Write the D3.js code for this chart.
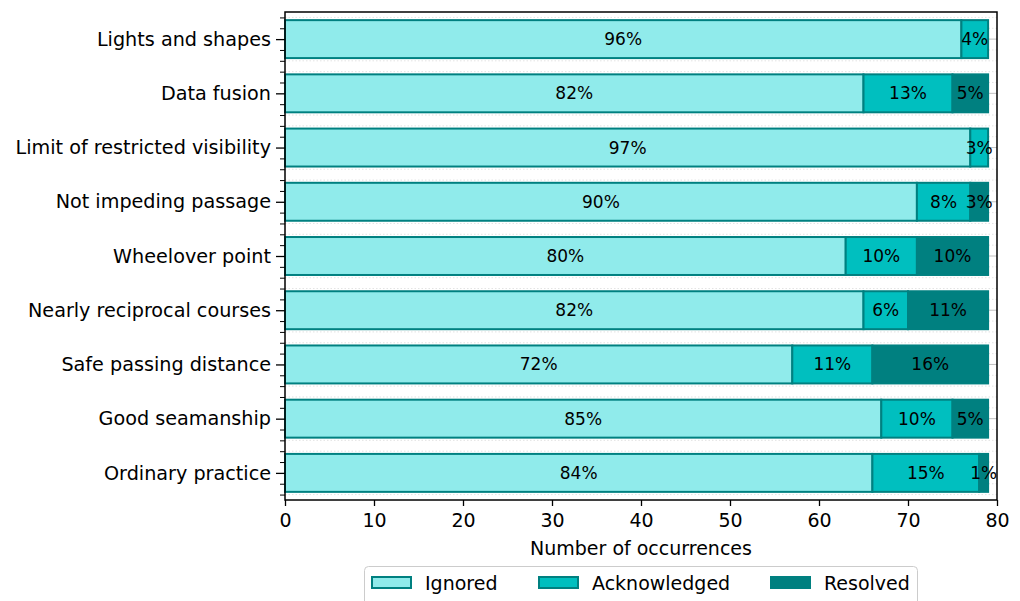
<!DOCTYPE html>
<html><head><meta charset="utf-8">
<script src="https://cdn.jsdelivr.net/npm/d3@7"></script>
<style>body{margin:0;background:#fff;} text{font-family:"DejaVu Sans",sans-serif;}</style>
</head><body>
<svg id="c" width="1020" height="601"></svg>
<script>
const categories = ["Lights and shapes","Data fusion","Limit of restricted visibility","Not impeding passage","Wheelover point","Nearly reciprocal courses","Safe passing distance","Good seamanship","Ordinary practice"];
const ignored      = [76, 65, 77, 71, 63, 65, 57, 67, 66];
const acknowledged = [ 3, 10,  2,  6,  8,  5,  9,  8, 12];
const resolved     = [ 0,  4,  0,  2,  8,  9, 13,  4,  1];
const seriesNames = ["Ignored","Acknowledged","Resolved"];
const seriesColors = ["#90ebeb","#00bfbf","#008080"];
const xTicks = [0,10,20,30,40,50,60,70,80];

const svg = d3.select("#c");
const L = 285, R = 997, T = 12, B = 500;
const x = d3.scaleLinear().domain([0,80]).range([L,R]);
const y = d3.scaleLinear().domain([-0.5,8.5]).range([T,B]);
const edge = "#008080";

// gridlines
const minor = d3.range(-2,43).map(k=>k*0.2).filter(v=>v>-0.5&&v<8.5&&Math.abs(v-Math.round(v))>1e-6);
svg.append("g").selectAll("line").data(minor).join("line")
  .attr("x1",L).attr("x2",R).attr("y1",d=>y(d)).attr("y2",d=>y(d))
  .attr("stroke","#dcdcdc").attr("stroke-width",0.8).attr("stroke-dasharray","1.5,2");
svg.append("g").selectAll("line").data(d3.range(categories.length)).join("line")
  .attr("x1",L).attr("x2",R).attr("y1",d=>y(d)).attr("y2",d=>y(d))
  .attr("stroke","#b0b0b0").attr("stroke-width",0.8);

// bars
const series = [ignored, acknowledged, resolved];
const h = y(0.35)-y(-0.35);
categories.forEach((c,i)=>{
  const total = series.reduce((s,a)=>s+a[i],0);
  let acc = 0;
  series.forEach((arr,k)=>{
    const v = arr[i];
    const x0 = acc; acc += v;
    if (v<=0) return;
    svg.append("rect").attr("x",x(x0)).attr("y",y(i)-h/2)
      .attr("width",x(acc)-x(x0)).attr("height",h)
      .attr("fill",seriesColors[k]).attr("stroke",edge).attr("stroke-width",2);
  });
  acc = 0;
  series.forEach((arr,k)=>{
    const v = arr[i];
    const x0 = acc; acc += v;
    if (v<=0) return;
    svg.append("text").attr("x",x((x0+acc)/2)).attr("y",y(i))
      .attr("text-anchor","middle").attr("dominant-baseline","central")
      .attr("font-size",17).attr("fill","#000")
      .text(Math.round(v/total*100)+"%");
  });
});

// axes
const xAxis = d3.axisBottom(x).tickValues(xTicks).tickSize(6).tickPadding(8).tickFormat(d3.format("d"));
const gx = svg.append("g").attr("transform",`translate(0,${B})`).call(xAxis);
gx.select(".domain").remove();
gx.selectAll(".tick line").attr("stroke","#000").attr("stroke-width",1.3);
gx.selectAll(".tick text").attr("font-size",19).attr("fill","#000").attr("font-family","DejaVu Sans");

const gyMinor = svg.append("g").attr("transform",`translate(${L},0)`)
  .call(d3.axisLeft(y).tickValues(minor).tickSize(5).tickFormat(""));
gyMinor.select(".domain").remove();
gyMinor.selectAll(".tick line").attr("stroke","#000").attr("stroke-width",1);

const gy = svg.append("g").attr("transform",`translate(${L},0)`)
  .call(d3.axisLeft(y).tickValues(d3.range(categories.length)).tickSize(9).tickPadding(5).tickFormat(i=>categories[i]));
gy.select(".domain").remove();
gy.selectAll(".tick line").attr("stroke","#000").attr("stroke-width",1.3);
gy.selectAll(".tick text").attr("font-size",19.2).attr("fill","#000").attr("font-family","DejaVu Sans");

// frame
svg.append("rect").attr("x",L).attr("y",T).attr("width",R-L).attr("height",B-T)
  .attr("fill","none").attr("stroke","#000").attr("stroke-width",1.5);

svg.append("text").attr("x",(L+R)/2).attr("y",555).attr("text-anchor","middle")
  .attr("font-size",19).attr("fill","#000").text("Number of occurrences");

// legend
const lg = svg.append("g");
lg.append("rect").attr("x",364.5).attr("y",566.5).attr("width",553).attr("height",50).attr("rx",4)
  .attr("fill","#fff").attr("stroke","#cccccc").attr("stroke-width",1);
const lx = [372, 539, 771];
seriesNames.forEach((n,k)=>{
  lg.append("rect").attr("x",lx[k]).attr("y",577).attr("width",39).attr("height",11)
    .attr("fill",seriesColors[k]).attr("stroke",edge).attr("stroke-width",2);
  lg.append("text").attr("x",lx[k]+53).attr("y",583).attr("dominant-baseline","central")
    .attr("font-size",19).attr("fill","#000").text(n);
});
</script>
</body></html>
